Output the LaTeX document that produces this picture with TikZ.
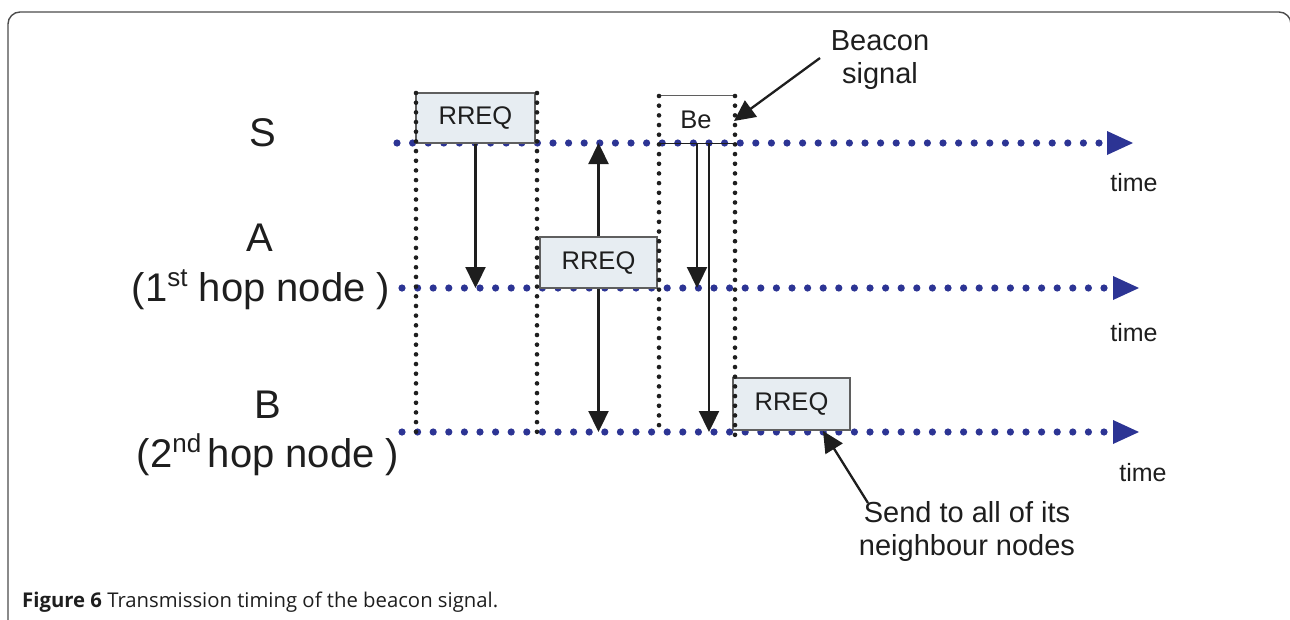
\documentclass[tikz,border=0pt]{standalone}
\usepackage{fontspec}
\setmainfont{Liberation Sans}
\newfontfamily\capfont{Open Sans}
\usetikzlibrary{arrows.meta,calc}

\definecolor{tlblue}{RGB}{44,52,148}
\definecolor{boxfill}{RGB}{231,237,242}
\definecolor{boxedge}{RGB}{95,95,95}
\definecolor{inkblack}{RGB}{30,30,30}

\newcommand{\ordsup}[1]{\raisebox{15pt}{\fontsize{26}{26}\selectfont #1}}

\tikzset{
  tldot/.style={fill=tlblue},
  slotdot/.style={fill=inkblack},
  msgbox/.style={draw=boxedge, fill=boxfill, line width=1.2pt, inner sep=0pt,
    font=\fontsize{25.5}{30}\selectfont, text=inkblack},
  sig/.style={inkblack, line width=2.3pt, -{Triangle[length=21pt,width=20pt]}},
  rowlabel/.style={inner sep=0pt, font=\fontsize{40}{44}\selectfont, text=inkblack},
  timelabel/.style={inner sep=0pt, font=\fontsize{25}{30}\selectfont, text=inkblack},
  note/.style={inner sep=0pt, align=center, font=\fontsize{29}{33}\selectfont, text=inkblack},
}

\begin{document}
\begin{tikzpicture}[x=1pt,y=-1pt]
\useasboundingbox (0,0) rectangle (1290,619);
\clip (0,0) rectangle (1290,619);

% outer frame
\draw[boxedge!80!black, line width=1.4pt, rounded corners=12pt] (8,12) rectangle (1291,720);

% time axes: rows of dots ending in a filled head
\coordinate (s0) at (397,143);  \coordinate (s1) at (1102,143);
\coordinate (a0) at (402,288);  \coordinate (a1) at (1106,288);
\coordinate (b0) at (402,432);  \coordinate (b1) at (1106,432);
\foreach \i in {0,...,45} {
  \fill[tldot] ($(s0)+(\i*15.6,0)$) circle (3.6pt);
  \fill[tldot] ($(a0)+(\i*15.6,0)$) circle (3.6pt);
  \fill[tldot] ($(b0)+(\i*15.6,0)$) circle (3.6pt);
}
\fill[tlblue] ($(s1)+(5,-12)$) -- ($(s1)+(31,0)$) -- ($(s1)+(5,12)$) -- cycle;
\fill[tlblue] ($(a1)+(7,-12)$) -- ($(a1)+(33,0)$) -- ($(a1)+(7,12)$) -- cycle;
\fill[tlblue] ($(b1)+(7,-12)$) -- ($(b1)+(33,0)$) -- ($(b1)+(7,12)$) -- cycle;

\node[timelabel] (t1) at (1134,183) {time};
\node[timelabel] (t2) at (1134,333) {time};
\node[timelabel] (t3) at (1143,473) {time};

% node names
\node[rowlabel] (ls) at (263,133) {S};
\node[rowlabel] (la) at (260,238) {A};
\node[rowlabel] (la2) at (261,290) {(1\ordsup{st} hop node )};
\node[rowlabel] (lb) at (268,405) {B};
\node[rowlabel] (lb2) at (268,455) {(2\ordsup{nd}\,hop node )};

% message boxes
\node[msgbox, minimum width=119pt, minimum height=50pt] (rs) at (475.5,118) {RREQ};
\node[msgbox, minimum width=117pt, minimum height=51pt] (ra) at (598.5,262.5) {RREQ};
\node[msgbox, minimum width=117pt, minimum height=52pt] (rb) at (791.5,404) {RREQ};
\node[inner sep=0pt, minimum width=74pt, minimum height=47pt,
      font=\fontsize{25.5}{30}\selectfont, text=inkblack] (be) at (696,119.5) {Be};
\draw[boxedge, line width=1.2pt] (be.north west) -- (be.north east);
\draw[inkblack, line width=1.2pt] (be.south west) -- (be.south east);

% slot boundaries
\coordinate (v1t) at (416,93);
\coordinate (v2t) at (537,93);
\coordinate (v3t) at (659,96);
\coordinate (v4t) at (735,96);
\foreach \i in {0,...,35} {
  \fill[slotdot] ($(v1t)+(0,\i*9.68)$) circle (2.3pt);
  \fill[slotdot] ($(v2t)+(0,\i*9.68)$) circle (2.3pt);
}
\foreach \i in {0,...,34} {
  \fill[slotdot] ($(v3t)+(0,\i*9.68)$) circle (2.3pt);
}
\foreach \i in {0,...,35} {
  \fill[slotdot] ($(v4t)+(0,\i*9.68)$) circle (2.3pt);
}

% transmissions
\draw[sig] (rs.south) -- (rs.south |- a0);
\draw[sig] (ra.north) -- (ra.north |- s0);
\draw[sig] (ra.south) -- (ra.south |- b0);
\coordinate (be1) at (697,143);
\coordinate (be2) at (709,143);
\draw[sig] (be1) -- (be1 |- a0);
\draw[sig] (be2) -- (be2 |- b0);

% annotations
\node[note] (nbeacon) at (880,60) {Beacon\\signal};
\coordinate (pbeacon) at (820,58);
\coordinate (hbeacon) at (734,121);
\draw[sig] (pbeacon) -- (hbeacon);

\node[note] (nsend) at (967,531) {Send to all of its\\neighbour nodes};
\coordinate (psend) at (868,503);
\coordinate (hsend) at (823,431);
\draw[sig] (psend) -- (hsend);

% caption
\node[anchor=base west, inner sep=0pt, text=inkblack,
      font=\capfont\fontsize{20.3}{24}\selectfont] (cap) at (22,607)
  {\textbf{Figure 6} Transmission timing of the beacon signal.};
\end{tikzpicture}
\end{document}
